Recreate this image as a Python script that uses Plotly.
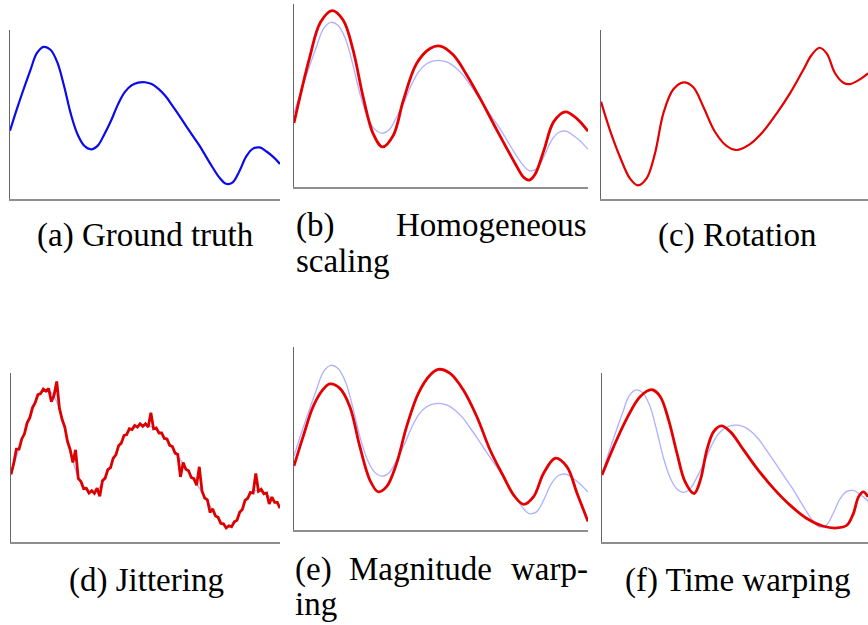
import plotly.graph_objects as go

# ---------------------------------------------------------------------------
# Series (time step 0..100, value on a 0..100 scale)
# ---------------------------------------------------------------------------

# original (ground-truth) signal, knots joined by a spline
gt_t = [0, 2.5, 5, 7.5, 10, 12.5, 15, 17.5, 20, 22.5, 25, 27.5, 30, 32.5, 35,
        37.5, 40, 42.5, 45, 47.5, 50, 52.5, 55, 57.5, 60, 62.5, 65, 67.5, 70,
        72.5, 75, 77.5, 80, 82.5, 85, 87.5, 90, 92.5, 95, 97.5, 100]
gt_v = [40.4, 53.0, 64.8, 76.0, 86.4, 90.0, 88.3, 81.0, 67.0, 50.5, 38.3,
        31.5, 29.4, 31.6, 38.5, 46.6, 56.0, 63.2, 67.2, 68.9, 69.1, 68.0,
        65.2, 61.1, 55.6, 49.8, 43.7, 37.8, 32.0, 25.4, 18.8, 12.8, 9.0, 9.9,
        16.6, 25.2, 29.8, 30.5, 28.1, 24.9, 20.7]

# (b) homogeneous scaling
scale_t = [0, 5.2, 9.0, 13.0, 16.7, 20.1, 23.5, 26.9, 30.1, 33.8, 37.2, 41.7,
           46.3, 49.7, 54.2, 58.8, 63.3, 67.8, 72.4, 75.5, 78.0, 80.0, 82.0,
           85.0, 88.3, 92.3, 96.2, 100]
scale_v = [35.0, 70.0, 90.0, 96.4, 91.2, 74.8, 49.3, 29.2, 21.9, 28.3, 47.4,
           67.5, 75.7, 77.0, 72.1, 61.1, 48.4, 34.7, 21.0, 12.0, 5.5, 3.8, 7.0,
           20.0, 35.6, 41.1, 37.4, 30.5]

# (c) rotation
rot_t = [0, 3.3, 7.0, 10.7, 13.6, 16.9, 20.0, 23.1, 26.8, 30.7, 34.2, 37.9,
         42.2, 46.5, 50.2, 55.2, 60.0, 65.1, 70.0, 74.9, 78.0, 80.9, 83.6,
         86.7, 89.8, 92.2, 95.9, 98.9]
rot_v = [57.6, 40.8, 25.0, 12.2, 8.1, 12.2, 27.0, 50.7, 64.9, 69.0, 66.1, 54.6,
         39.8, 31.4, 29.0, 32.5, 39.8, 50.7, 62.5, 76.3, 85.2, 89.5, 86.2, 74.4,
         68.8, 68.0, 70.8, 74.4]

# (d) jittering: one noisy reading per time step
jit_t = list(range(101))
jit_v = [40.0, 46.5, 55.0, 55.0, 61.0, 64.0, 70.5, 73.6, 79.5, 82.4,
         87.2, 87.8, 90.5, 89.3, 90.8, 83.0, 86.8, 95.0, 79.2, 72.5,
         68.0, 59.5, 54.6, 47.0, 54.5, 37.6, 35.8, 31.6, 31.8, 29.0,
         30.4, 28.8, 31.8, 27.0, 36.3, 37.8, 42.8, 44.0, 49.6, 51.6,
         57.0, 58.5, 63.0, 63.6, 67.0, 66.5, 69.0, 68.0, 70.0, 68.5,
         70.0, 68.0, 76.5, 67.0, 67.5, 64.5, 64.6, 61.3, 61.0, 57.2,
         56.5, 52.6, 51.8, 38.5, 47.0, 43.0, 42.2, 38.2, 37.5, 33.6,
         44.5, 30.2, 26.0, 25.0, 17.5, 19.6, 15.4, 14.6, 11.0, 10.8,
         8.3, 9.6, 9.0, 12.0, 12.8, 17.6, 19.2, 24.6, 25.8, 29.4,
         29.0, 40.5, 30.0, 31.2, 28.5, 29.0, 22.5, 26.6, 23.4, 23.4,
         20.0]

# (e) magnitude warping
mag_t = [0, 3.1, 6.5, 9.9, 12.2, 15.6, 19.0, 22.4, 25.8, 28.6, 31.5, 34.9,
         38.3, 42.3, 46.3, 49.1, 53.1, 57.6, 62.2, 66.7, 71.3, 74.7, 78.1,
         81.5, 84.9, 88.9, 92.8, 96.3, 100]
mag_v = [35.0, 51.0, 67.4, 76.8, 79.8, 77.4, 67.4, 45.5, 27.3, 20.9, 23.7,
         36.4, 56.5, 74.7, 84.7, 87.8, 85.6, 76.5, 61.9, 43.7, 29.1, 19.1,
         14.0, 18.2, 31.0, 39.2, 34.6, 20.0, 4.6]

# (f) time warping
warp_t = [0, 4.3, 9.2, 14.1, 18.4, 21.4, 24.5, 27.6, 30.6, 33.9, 36.2, 38.6,
          41.1, 43.9, 47.2, 52.1, 57.0, 63.1, 69.2, 75.4, 81.5, 86.4, 90.1,
          92.5, 94.4, 96.2, 97.9]
warp_v = [39.6, 56.4, 73.3, 86.1, 90.1, 86.1, 72.3, 52.5, 35.6, 28.7, 36.6,
          54.5, 65.3, 68.7, 65.3, 54.5, 43.6, 31.7, 21.8, 13.9, 9.3, 8.3, 9.9,
          16.8, 26.7, 29.7, 26.7]

captions = ["(a) Ground truth", "(b) Homogeneous scaling", "(c) Rotation",
            "(d) Jittering", "(e) Magnitude warping", "(f) Time warping"]

# ---------------------------------------------------------------------------
# Layout helpers
# ---------------------------------------------------------------------------
W, H = 868, 625
RED = "rgb(228,0,0)"
BLUE = "rgb(10,10,235)"
LIGHT = "rgba(110,110,255,0.55)"
FONT = "Liberation Serif"
FS = 33

# panel boxes in page pixels: left, right, top, bottom, visible x-range end
panels = [
    (10, 280, 30, 199, 100),
    (294, 588, 4, 187, 100),
    (601, 868, 30, 199, 98.9),
    (11, 280, 373, 542, 100),
    (294, 588, 347, 530, 100),
    (602, 868, 373, 542, 97.9),
]

fig = go.Figure()


def add_line(i, t, v, color, width, shape="spline"):
    fig.add_trace(go.Scatter(
        x=t, y=v, mode="lines",
        line=dict(color=color, width=width, shape=shape,
                  smoothing=1.0 if shape == "spline" else None),
        xaxis=f"x{i + 1}" if i else "x", yaxis=f"y{i + 1}" if i else "y",
        showlegend=False, hoverinfo="skip"))


# (a)
add_line(0, gt_t, gt_v, BLUE, 2.2)
# (b)
add_line(1, gt_t, gt_v, LIGHT, 1.3)
add_line(1, scale_t, scale_v, RED, 2.8)
# (c)
add_line(2, rot_t, rot_v, RED, 2.2)
# (d)
add_line(3, gt_t, gt_v, LIGHT, 1.3)
add_line(3, jit_t, jit_v, "rgb(220,0,0)", 2.8, shape="linear")
# (e)
add_line(4, gt_t, gt_v, LIGHT, 1.3)
add_line(4, mag_t, mag_v, RED, 2.8)
# (f)
add_line(5, gt_t, gt_v, LIGHT, 1.3)
add_line(5, warp_t, warp_v, RED, 2.8)

layout = dict(width=W, height=H, margin=dict(l=0, r=0, t=0, b=0),
              paper_bgcolor="white", plot_bgcolor="white")

for i, (l, r, t, b, xend) in enumerate(panels):
    sx = "" if i == 0 else str(i + 1)
    common = dict(showgrid=False, zeroline=False, showticklabels=False,
                  ticks="", showline=True, fixedrange=True)
    layout["xaxis" + sx] = dict(domain=[l / W, min(r / W, 1)], range=[0, xend],
                                anchor="y" + sx, linecolor="#8e8e8e",
                                linewidth=2, **common)
    layout["yaxis" + sx] = dict(domain=[1 - b / H, 1 - t / H], range=[0, 100],
                                anchor="x" + sx, linecolor="#666666",
                                linewidth=1.2, **common)

fig.update_layout(**layout)


def caption(text, px, py, anchor="center"):
    fig.add_annotation(text=text, x=px / W, y=1 - py / H, xref="paper",
                       yref="paper", xanchor=anchor, yanchor="middle",
                       showarrow=False,
                       font=dict(family=FONT, size=FS, color="black"))


caption(captions[0], 145, 236)
b_words = captions[1].split(" ")
caption(b_words[0], 294, 225, "left")
caption(b_words[1], 589, 225, "right")
caption(b_words[2], 294, 261, "left")
caption(captions[2], 737, 236)
caption(captions[3], 146, 580)
e_words = captions[4].split(" ")
caption(e_words[0], 293, 569, "left")
caption(e_words[1], 420, 569)
caption(e_words[2][:4] + "-", 590, 569, "right")
caption(e_words[2][4:], 293, 604, "left")
caption(captions[5], 738, 580)

fig.write_html("out.html")
